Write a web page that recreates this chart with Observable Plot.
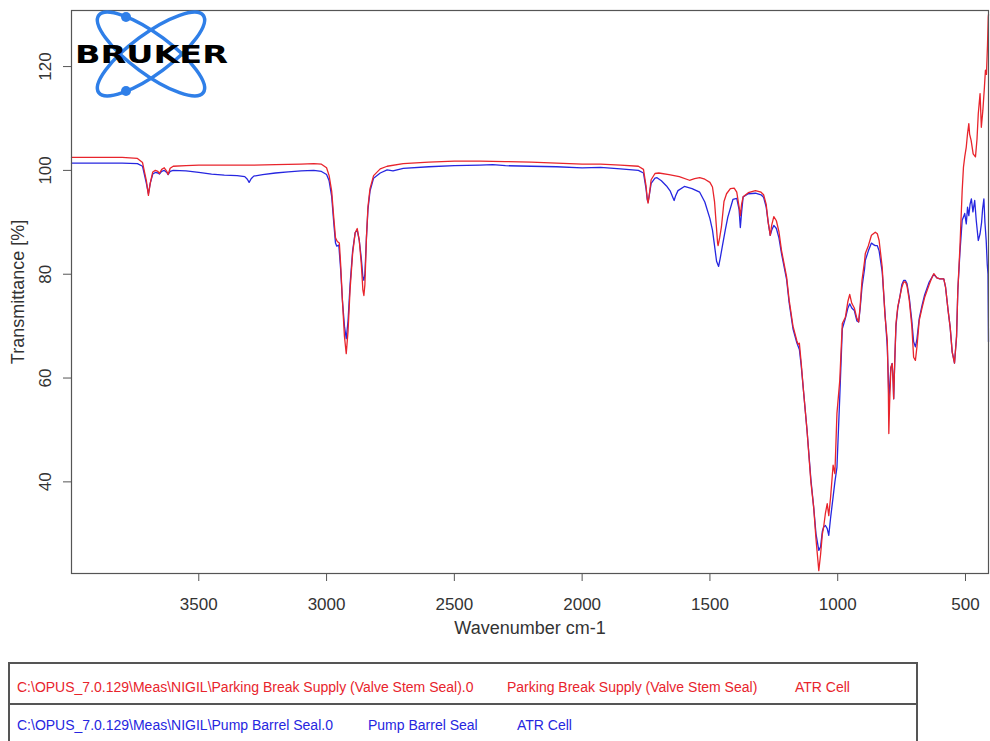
<!DOCTYPE html>
<html>
<head>
<meta charset="utf-8">
<script src="https://cdn.jsdelivr.net/npm/d3@7"></script>
<script src="https://cdn.jsdelivr.net/npm/@observablehq/plot@0.6"></script>
<style>
  body { margin: 0; background: #fff; }
  #wrap { position: relative; width: 990px; height: 741px; overflow: hidden; background: #fff; }
  #legend { position: absolute; left: 8px; top: 662px; width: 910px; height: 100px;
            border: 2px solid #555; box-sizing: border-box; }
  #legend .sep { position: absolute; left: 0; right: 0; top: 39px; border-top: 2px solid #555; }
  #legend span { position: absolute; white-space: nowrap;
                 font-family: "Liberation Sans", Arial, sans-serif;
                 font-size: 14px; line-height: 14px; }
</style>
</head>
<body>
<div id="wrap">
  <div id="chart"></div>
  <div id="legend"><div class="sep"></div></div>
</div>
<script>
// ---- Data ----
const xTicks = [3500, 3000, 2500, 2000, 1500, 1000, 500];
const yTicks = [40, 60, 80, 100, 120];
const xLabel = "Wavenumber cm-1";
const yLabel = "Transmittance [%]";

const seriesNames = ["Parking Break Supply (Valve Stem Seal)", "Pump Barrel Seal"];
const seriesFiles = ["C:\\OPUS_7.0.129\\Meas\\NIGIL\\Parking Break Supply (Valve Stem Seal).0",
                     "C:\\OPUS_7.0.129\\Meas\\NIGIL\\Pump Barrel Seal.0"];
const seriesMode = ["ATR Cell", "ATR Cell"];
const seriesColors = ["#e8242c", "#2626e0"];

// Parking Break Supply (red)
const redWn = [3998,3900,3800,3740,3720,3705,3697,3690,3680,3670,3660,3654,3645,3635,3625,3620,3612,3600,3550,3500,3400,3300,3200,3100,3050,3020,3000,2990,2980,2972,2965,2958,2950,2945,2938,2930,2923,2916,2908,2898,2888,2880,2872,2864,2858,2854,2850,2844,2838,2830,2816,2790,2763,2700,2600,2500,2400,2300,2200,2100,2000,1928,1850,1780,1760,1750,1745,1742,1738,1730,1715,1700,1660,1620,1580,1560,1540,1520,1500,1490,1482,1476,1470,1468,1462,1455,1445,1435,1420,1405,1395,1386,1381,1376,1370,1350,1322,1300,1290,1280,1272,1264,1258,1250,1240,1230,1220,1200,1190,1175,1160,1155,1150,1143,1134,1120,1105,1094,1085,1074,1067,1060,1055,1048,1041,1035,1028,1018,1011,1003,992,982,970,960,953,945,935,925,918,912,905,895,892,880,868,853,845,838,826,815,806,802,800,797,792,787,783,781,777,772,765,757,749,742,735,729,720,710,703,696,690,681,670,660,642,630,624,612,600,585,578,568,560,552,543,535,530,522,513,508,503,497,492,487,484,478,470,461,455,450,443,438,432,426,422,418,414,411,410];
const redT  = [102.5,102.5,102.5,102.3,101.5,98,95.2,97.5,99.7,100.0,99.8,99.4,100.2,100.5,99.8,99.2,100.4,100.8,100.9,101.0,101.0,101.0,101.1,101.2,101.3,101.2,100.5,99,96,91,87,86.3,86,82,75,68,64.7,69,77,84,88,88.8,86.5,82,77,75.9,78,87,93,96.5,99.0,100.3,100.8,101.3,101.6,101.8,101.8,101.7,101.6,101.4,101.2,101.2,101.0,100.8,100.2,97,94.5,93.7,95,98.2,99.4,99.5,99.2,98.8,98.1,98.4,98.6,98.3,97.7,96.8,94,90,86,85.5,87,89.1,94,95.5,96.5,96.6,95.8,93,91.3,93.5,94.9,95.7,96.1,95.8,95.3,93.5,90,87.5,89.5,91.1,90.3,88.2,84.6,79.5,75,70,67.2,66.5,66.7,63,57.6,49.9,40,35.1,29,22.9,26,30,31.3,34,35.8,33.5,37,43.2,41.6,53.2,59.5,70.5,71.7,74.8,76.1,74.4,73.5,71.5,70.8,74,78.8,82.5,84,85.5,87.5,88.1,87.8,86.5,81.4,72,67.2,58,49.3,55,62,62.8,59,56,63,70.5,73.7,75.6,77.5,78.5,78.5,77.8,75,70,64,63.4,66,71.1,73.5,75.5,78,79.5,80.1,79.3,79.1,79.1,77.5,73,69.8,65,62.9,68,76.9,85,96.1,100.6,102.6,104.5,107.1,109,107,105.8,103.2,102.6,106,110.9,114.8,108.3,111.6,116,119.3,118.5,124,129.5,130];

// Pump Barrel Seal (blue)
const blueWn = [3998,3900,3800,3740,3720,3705,3697,3690,3680,3670,3660,3654,3645,3635,3625,3620,3612,3600,3550,3500,3450,3400,3350,3320,3310,3303,3295,3285,3250,3200,3150,3100,3050,3020,3000,2990,2980,2972,2965,2960,2952,2945,2938,2930,2923,2916,2908,2898,2888,2880,2872,2864,2858,2854,2850,2844,2838,2830,2816,2790,2763,2740,2700,2600,2500,2400,2350,2300,2200,2100,2000,1928,1850,1780,1760,1750,1745,1742,1738,1730,1715,1707,1690,1670,1655,1645,1640,1635,1625,1600,1570,1540,1520,1500,1490,1482,1474,1466,1460,1452,1440,1430,1410,1395,1386,1381,1376,1370,1350,1322,1300,1290,1280,1272,1264,1258,1250,1240,1230,1220,1200,1190,1175,1160,1150,1143,1134,1120,1105,1094,1085,1074,1067,1060,1055,1048,1041,1035,1028,1018,1011,1003,992,982,970,960,953,945,935,925,918,912,905,895,892,880,868,860,853,845,838,826,815,806,802,800,797,792,787,783,781,777,772,765,757,749,742,735,729,720,710,703,696,690,681,670,660,642,630,624,612,600,585,578,568,560,552,543,535,530,522,513,508,503,497,492,487,482,477,471,464,458,450,443,437,433,428,424,419,415,412,410];
const blueT  = [101.4,101.4,101.4,101.3,100.8,97.5,95.5,97.5,99.3,99.6,99.5,99.3,99.8,100.0,99.6,99.2,99.8,100.0,99.9,99.6,99.3,99.1,99.0,98.8,98.3,97.7,98.4,98.9,99.2,99.5,99.7,99.9,100.0,99.8,99.2,98,95,90,86,85.4,85.6,81,75,70,67.6,71,78,84.5,88,88.5,86.5,83,79.5,78.8,80,87,92.5,96,98.5,99.5,100.1,99.9,100.4,100.7,100.9,101.0,101.1,100.9,100.8,100.7,100.5,100.6,100.3,100.0,99.5,96.5,94.3,93.9,95,97.5,98.5,98.6,98.0,97.0,96.0,94.8,94.2,95,96.1,96.9,96.5,95.8,93.9,90.7,88.5,85.5,82.5,81.5,83,85.2,88.5,91,94.4,94.6,92.5,89.0,92,94.9,95.5,95.6,95.3,94.8,93,90,87.5,88.5,89.4,88.8,87,84,79,74.5,69.5,66.8,65.5,62.5,57.6,49.9,40.5,35.1,30,26.8,27.5,30.5,31.3,31.6,31,29.7,33,37.1,40,42.8,56.3,69.5,71.5,73.5,74.3,73.5,73,71,70.8,73.5,77.5,81,82.7,84.5,86,85.7,85.5,85.5,84.5,80.5,72.5,66,60,55.7,58,62,62.8,59.5,56,63,70,73.5,75.6,78,78.8,78.8,78.2,75.5,71,67,66,67.5,71.5,74,76,78.5,79.5,80,79.3,79.1,79.1,77.5,73,69.8,65,62.9,68,76.9,84,90.4,91,91.7,89.7,92.9,91.3,93.5,94.5,92,94.2,90.4,86.5,87.8,90,92.6,94.5,90,86.5,82,80,67];

// ---- Build tables ----
const red = redWn.map((w, i) => ({w, t: redT[i]}));
const blue = blueWn.map((w, i) => ({w, t: blueT[i]}));

const font = "'Liberation Sans', Arial, Helvetica, sans-serif";
const ink = "#333";
const frameColor = "#555";

const chart = Plot.plot({
  width: 990,
  height: 655,
  marginLeft: 71,
  marginRight: 2,
  marginTop: 10,
  marginBottom: 82,
  x: {domain: [3998, 410]},
  y: {domain: [22.35, 130.8]},
  style: {fontFamily: font, fontSize: "17px", color: ink, background: "white", overflow: "visible"},
  marks: [
    Plot.axisX({ticks: xTicks, tickSize: 8, tickPadding: 16, fontSize: 17, label: null,
                tickFormat: d => String(d), stroke: frameColor}),
    Plot.axisY({ticks: yTicks, tickSize: 8, tickFormat: () => "", label: null, stroke: frameColor}),
    Plot.text(yTicks, {y: d => d, frameAnchor: "left", dx: -26, rotate: -90,
                       text: d => String(d), fontSize: 17, fill: ink, textAnchor: "middle"}),
    Plot.text([xLabel], {frameAnchor: "bottom", dy: 60, text: d => d, fontSize: 18, fill: ink, textAnchor: "middle"}),
    Plot.text([yLabel], {frameAnchor: "left", dx: -53, rotate: -90, text: d => d, fontSize: 18, fill: ink, textAnchor: "middle"}),
    Plot.line(blue, {x: "w", y: "t", stroke: seriesColors[1], strokeWidth: 1.3}),
    Plot.line(red, {x: "w", y: "t", stroke: seriesColors[0], strokeWidth: 1.3}),
    Plot.frame({stroke: frameColor, strokeWidth: 1.2})
  ]
});

// ---- Bruker logo (decoration) ----
const svg = d3.select(chart);
const logo = svg.append("g").attr("class", "logo");
const cx = 151, cy = 54, rx = 65, ry = 20, ang = 36.5;
[ang, -ang].forEach(a => {
  logo.append("ellipse").attr("cx", cx).attr("cy", cy).attr("rx", rx).attr("ry", ry)
    .attr("fill", "none").attr("stroke", "#2f7fe8").attr("stroke-width", 3.5)
    .attr("transform", `rotate(${a},${cx},${cy})`);
});
[[126, 17], [126, 91]].forEach(([x, y]) => {
  logo.append("circle").attr("cx", x).attr("cy", y).attr("r", 5).attr("fill", "#2f7fe8");
});
logo.append("text").attr("x", 75).attr("y", 63).attr("textLength", 153)
  .attr("lengthAdjust", "spacingAndGlyphs").attr("text-anchor", "start")
  .attr("font-family", "'DejaVu Sans', sans-serif").attr("font-weight", 900)
  .attr("font-size", 25).attr("fill", "#000").text("BRUKER");

document.getElementById("chart").appendChild(chart);

// ---- Legend table ----
const legend = document.getElementById("legend");
const rows = [
  {top: 16, cells: [[seriesFiles[0], 7], [seriesNames[0], 497], [seriesMode[0], 785]], color: seriesColors[0]},
  {top: 54, cells: [[seriesFiles[1], 7], [seriesNames[1], 358], [seriesMode[1], 507]], color: seriesColors[1]}
];
rows.forEach(r => r.cells.forEach(([txt, left]) => {
  const s = document.createElement("span");
  s.textContent = txt;
  s.style.left = left + "px";
  s.style.top = r.top + "px";
  s.style.color = r.color;
  legend.appendChild(s);
}));
</script>
</body>
</html>
